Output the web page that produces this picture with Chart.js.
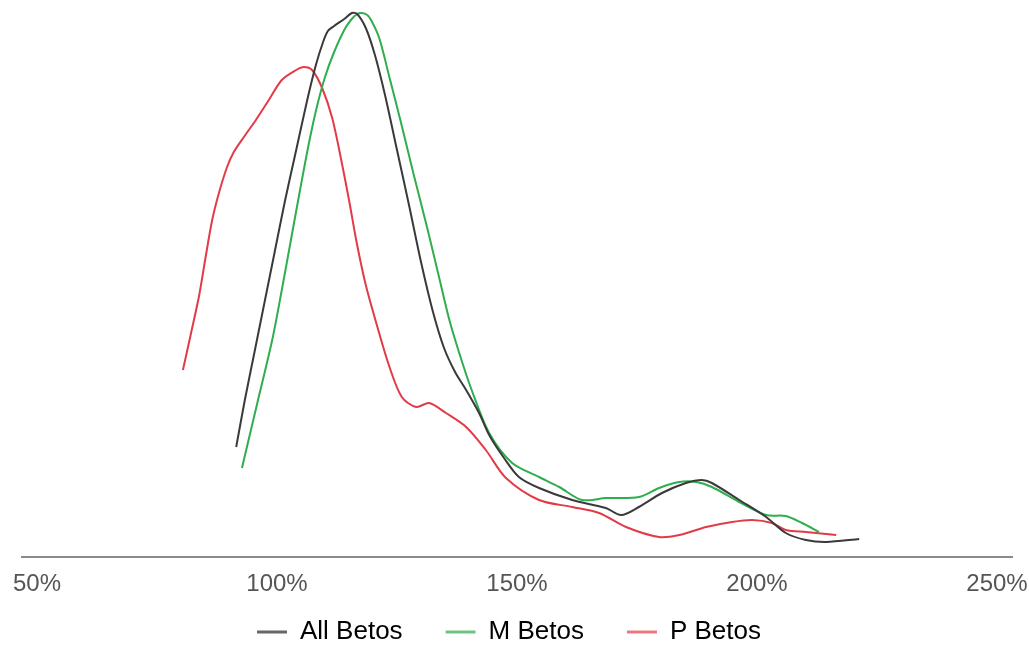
<!DOCTYPE html>
<html>
<head>
<meta charset="utf-8">
<script src="https://cdn.jsdelivr.net/npm/chart.js@4/dist/chart.umd.min.js"></script>
<style>
  html, body { margin: 0; padding: 0; background: #ffffff; }
  #wrap { width: 1029px; height: 646px; }
</style>
</head>
<body>
<div id="wrap"><canvas id="c" width="1029" height="646"></canvas></div>
<script>
const seriesNames = ["All Betos", "M Betos", "P Betos"];
const xTicks = [50, 100, 150, 200, 250];

const allX = [91.5, 93.3, 95.4, 97.5, 99.6, 101.7, 104.0, 106.3, 108.1, 109.6, 110.6, 111.9, 114.0, 115.6, 116.7, 118.5, 120.4, 122.5, 125.0, 127.5, 130.0, 132.5, 134.8, 137.1, 139.4, 142.1, 144.2, 147.3, 150.4, 154.6, 161.5, 168.5, 171.7, 175.4, 180.2, 185.2, 188.5, 190.6, 196.3, 201.9, 206.0, 210.2, 214.4, 221.3];
const allY = [22, 31.4, 41.4, 51.4, 61.4, 71.4, 81.4, 91.4, 98.4, 103, 105.2, 106.2, 107.6, 108.8, 108.6, 105.8, 100.4, 92.4, 81.4, 70.4, 59, 49, 41.8, 37, 33.4, 28.8, 24.4, 19.8, 16, 13.8, 11.4, 9.8, 8.4, 10, 12.8, 14.8, 15.4, 14.8, 11.4, 8, 4.8, 3.4, 3, 3.6];

const mX = [92.7, 95.8, 99.0, 101.0, 102.9, 104.8, 106.7, 108.3, 110.0, 111.9, 114.0, 115.4, 116.7, 117.7, 118.8, 119.6, 121.3, 123.3, 125.8, 128.5, 131.3, 133.8, 135.8, 137.9, 140.4, 144.2, 149.0, 154.6, 158.8, 163.5, 168.5, 175.4, 179.6, 183.8, 187.3, 190.6, 196.3, 201.9, 206.0, 209.4, 212.9];
const mY = [17.8, 30.4, 43.4, 53.4, 63.4, 73.4, 83, 90, 96, 101, 105.4, 107.4, 108.6, 108.8, 108.4, 107.4, 103.8, 96.4, 87, 76.4, 65.8, 55.8, 47.8, 41, 33.8, 24.8, 18.8, 16, 14, 11.4, 11.8, 12, 13.8, 15, 15, 14, 11, 8.4, 8.2, 6.8, 5];

const pX = [80.4, 82.1, 83.8, 85.2, 86.5, 87.9, 89.6, 91.0, 93.1, 95.6, 98.3, 101.0, 104.0, 105.6, 107.3, 109.4, 111.5, 113.3, 115.0, 116.7, 118.5, 120.8, 123.3, 126.0, 129.0, 131.7, 135.2, 139.4, 143.5, 147.7, 154.6, 161.5, 167.1, 172.7, 179.6, 183.8, 189.4, 194.8, 199.0, 203.1, 206.0, 210.2, 216.5];
const pY = [37.4, 44.8, 52.4, 60.4, 67.4, 72.8, 78, 81, 84, 87.4, 91.4, 95.4, 97.4, 98, 97.4, 93.8, 87.8, 79.8, 71.4, 62.4, 54.4, 46.4, 38.4, 32, 30, 30.8, 28.8, 26, 21.4, 15.8, 11.4, 10, 8.8, 6, 4, 4.4, 6, 7, 7.4, 6.8, 5.4, 5, 4.4];

const colors = ["#3a3a3a", "#2fae4e", "#e23b48"];
const legendColors = ["#666666", "#6cc483", "#ec7880"];

function pts(xs, ys) { return xs.map((x, i) => ({ x: x, y: ys[i] })); }

const seriesData = [pts(allX, allY), pts(mX, mY), pts(pX, pY)];

const datasets = seriesData.map((d, i) => ({
  label: seriesNames[i],
  data: d,
  borderColor: colors[i],
  backgroundColor: colors[i],
  borderWidth: 2,
  pointRadius: 0,
  pointHoverRadius: 0,
  fill: false,
  tension: 0.3
}));

const fixLayout = {
  id: 'fixLayout',
  afterLayout(chart) {
    // let the x tick labels draw below the thin axis box
    chart.scales.x.bottom = chart.height;
    // nudge legend to the reference position
    chart.legend.left -= 8;
    chart.legend.right -= 8;
  }
};

new Chart(document.getElementById('c'), {
  type: 'line',
  data: { datasets: datasets },
  plugins: [fixLayout],
  options: {
    responsive: false,
    animation: false,
    events: [],
    layout: { padding: { left: 22, right: 17, top: 7, bottom: 0 } },
    scales: {
      x: {
        type: 'linear',
        min: 46.875,
        max: 253.125,
        afterBuildTicks: (scale) => { scale.ticks = xTicks.map(v => ({ value: v })); },
        afterFit: (scale) => {
          scale.height = 19;
          scale.paddingLeft = 0;
          scale.paddingRight = 0;
        },
        grid: { display: false, drawTicks: false },
        border: { display: true, color: '#8a8a8a', width: 2 },
        ticks: {
          autoSkip: false,
          maxRotation: 0,
          padding: 13,
          color: '#555555',
          font: { family: '"Liberation Sans", Arial, sans-serif', size: 24 },
          callback: (v) => v + '%'
        }
      },
      y: {
        display: false,
        min: 0,
        max: 110
      }
    },
    plugins: {
      tooltip: { enabled: false },
      legend: {
        display: true,
        position: 'bottom',
        maxHeight: 70,
        labels: {
          boxWidth: 30,
          boxHeight: 3,
          padding: 43,
          color: '#444444',
          font: { family: '"Liberation Sans", Arial, sans-serif', size: 26 },
          generateLabels: (chart) => chart.data.datasets.map((ds, i) => ({
            text: ds.label,
            fillStyle: legendColors[i],
            strokeStyle: legendColors[i],
            lineWidth: 0,
            hidden: false,
            datasetIndex: i
          }))
        }
      }
    }
  }
});
</script>
</body>
</html>
